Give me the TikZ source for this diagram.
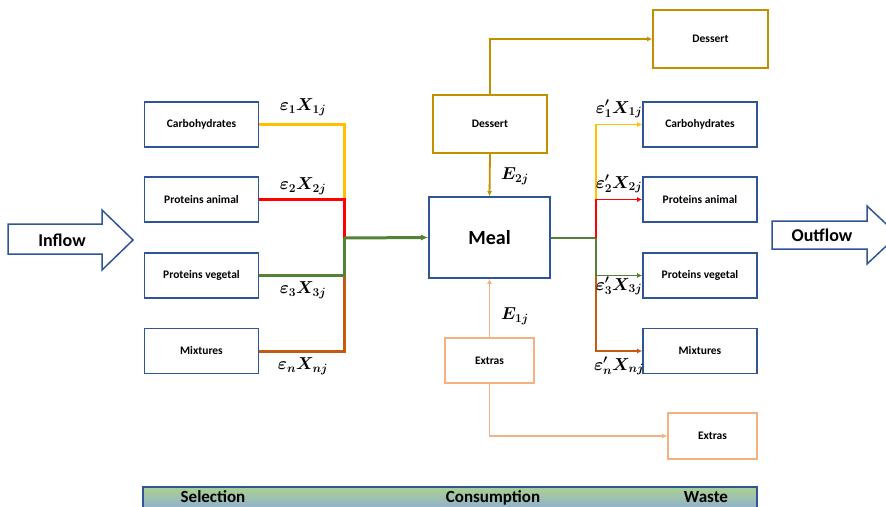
\documentclass[tikz,border=0pt]{standalone}
\usepackage{amsmath}
\usepackage{bm}
\usepackage{fontspec}
\setmainfont{Carlito}
\usetikzlibrary{arrows.meta}
\definecolor{boxblue}{HTML}{2F5597}
\definecolor{cyel}{HTML}{FFC000}
\definecolor{cred}{HTML}{FF0000}
\definecolor{cgreen}{HTML}{548235}
\definecolor{cbrown}{HTML}{C55A11}
\definecolor{cgold}{HTML}{BF9000}
\definecolor{cpeach}{HTML}{F4B183}
\definecolor{bargreen}{HTML}{A9D18E}
\definecolor{barblue}{HTML}{8FAADC}
\tikzset{
  food/.style={draw=boxblue, line width=1.6pt, minimum width=114pt, minimum height=45pt,
    inner sep=0pt, font=\bfseries\fontsize{11.5}{13}\selectfont},
  lflow/.style={line width=3pt},
  rflow/.style={line width=1.8pt},
  thinflow/.style={line width=1.1pt},
  tip/.style={-{Latex[length=7pt,width=6pt]}},
  smalltip/.style={-{Latex[length=5pt,width=5pt]}},
  eq/.style={inner sep=0pt, font=\fontsize{16.5}{19}\selectfont},
  bigarrow/.style={draw=boxblue, line width=1.5pt, fill=white},
  bigtext/.style={font=\bfseries\fontsize{18}{20}\selectfont},
  bartext/.style={anchor=base, inner sep=0pt, font=\bfseries\fontsize{17}{19}\selectfont},
}
\begin{document}
\begin{tikzpicture}[x=1pt,y=-1pt]
\useasboundingbox (0,0) rectangle (886,506);

% input food groups
\node[food] (carbsL)  at (201.5,124.5) {Carbohydrates};
\node[food] (animalL) at (201.5,199.5) {Proteins animal};
\node[food] (vegL)    at (201.5,275.5) {Proteins vegetal};
\node[food] (mixL)    at (201.5,351)   {Mixtures};

% meal, dessert and extras
\node[food, minimum width=121pt, minimum height=81pt, font=\bfseries\fontsize{20}{22}\selectfont] (meal) at (489.5,237.5) {Meal};
\node[food, draw=cgold, minimum height=58pt] (dess1) at (490,124) {Dessert};
\node[food, draw=cgold, minimum width=115pt, minimum height=58pt] (dess2) at (710.5,39) {Dessert};
\node[food, draw=cpeach, minimum width=89pt] (extra1) at (489.5,360.5) {Extras};
\node[food, draw=cpeach, minimum width=89pt, minimum height=46pt] (extra2) at (712.5,436) {Extras};

% leftover food groups
\node[food] (carbsR)  at (700,124.5) {Carbohydrates};
\node[food] (animalR) at (700,199.5) {Proteins animal};
\node[food] (vegR)    at (700,275.5) {Proteins vegetal};
\node[food] (mixR)    at (700,351)   {Mixtures};

% junctions of the selection and waste branches
\coordinate (jA) at (344,199.5);
\coordinate (jM) at (344,238);
\coordinate (jV) at (344,275.5);
\coordinate (rA) at (596,199.5);
\coordinate (rM) at (596,238);
\coordinate (rV) at (596,275.5);

% selection branches
\draw[lflow, cyel]   (carbsL.east) -| (jA);
\draw[lflow, cred]   (animalL.east) -- (jA) -- (jM);
\draw[lflow, cbrown] (mixL.east) -| (jV);
\draw[lflow, cgreen] (vegL.east) -- (jV) -- (jM);
\draw[lflow, cgreen, tip] (jM) -- (meal.west);

% waste branches
\draw[rflow, cgreen] (meal.east |- rM) -- (rM);
\draw[rflow, cyel, smalltip]  (rA) |- (carbsR.west);
\draw[rflow, cred, smalltip]  (rM) -- (rA) -- (animalR.west);
\draw[rflow, cbrown, smalltip] (rV) |- (mixR.west);
\draw[rflow, cgreen, smalltip] (rM) -- (rV) -- (vegR.west);

% dessert and extras flows
\draw[line width=1.8pt, cgold, smalltip] (dess1.south) -- (meal.north);
\draw[thinflow, cgold, smalltip] (dess1.north) |- (dess2.west);
\draw[line width=1.8pt, cpeach, smalltip] (extra1.north) -- (meal.south);
\draw[thinflow, cpeach, smalltip] (extra1.south) |- (extra2.west);

% flow labels
\node[eq] (l1) at (303,107) {$\bm{\varepsilon_1 X_{1j}}$};
\node[eq] (l2) at (303,186) {$\bm{\varepsilon_2 X_{2j}}$};
\node[eq] (l3) at (303,290) {$\bm{\varepsilon_3 X_{3j}}$};
\node[eq] (l4) at (303,366) {$\bm{\varepsilon_n X_{nj}}$};
\node[eq] (r1) at (619,109) {$\bm{\varepsilon'_1 X_{1j}}$};
\node[eq] (r2) at (619,184) {$\bm{\varepsilon'_2 X_{2j}}$};
\node[eq] (r3) at (619,286) {$\bm{\varepsilon'_3 X_{3j}}$};
\node[eq] (r4) at (619,366) {$\bm{\varepsilon'_n X_{nj}}$};
\node[eq] (e2) at (515,176) {$\bm{E_{2j}}$};
\node[eq] (e1) at (515,316) {$\bm{E_{1j}}$};

% inflow and outflow block arrows
\draw[bigarrow] (8,224) -- (102,224) -- (102,210) -- (133,240) -- (102,270) -- (102,254) -- (8,254) -- cycle;
\node[bigtext] (inflow) at (62,240) {Inflow};
\draw[bigarrow] (772,221) -- (867,221) -- (867,206) -- (898,235) -- (867,264) -- (867,249) -- (772,249) -- cycle;
\node[bigtext] (outflow) at (822,235) {Outflow};

% stage bar
\draw[draw=boxblue, line width=1.4pt, top color=bargreen, bottom color=barblue] (143,487) rectangle (757,512);
\node[bartext] (sel) at (213,502.5) {Selection};
\node[bartext] (con) at (493,502.5) {Consumption};
\node[bartext] (was) at (706,502.5) {Waste};
\end{tikzpicture}
\end{document}
